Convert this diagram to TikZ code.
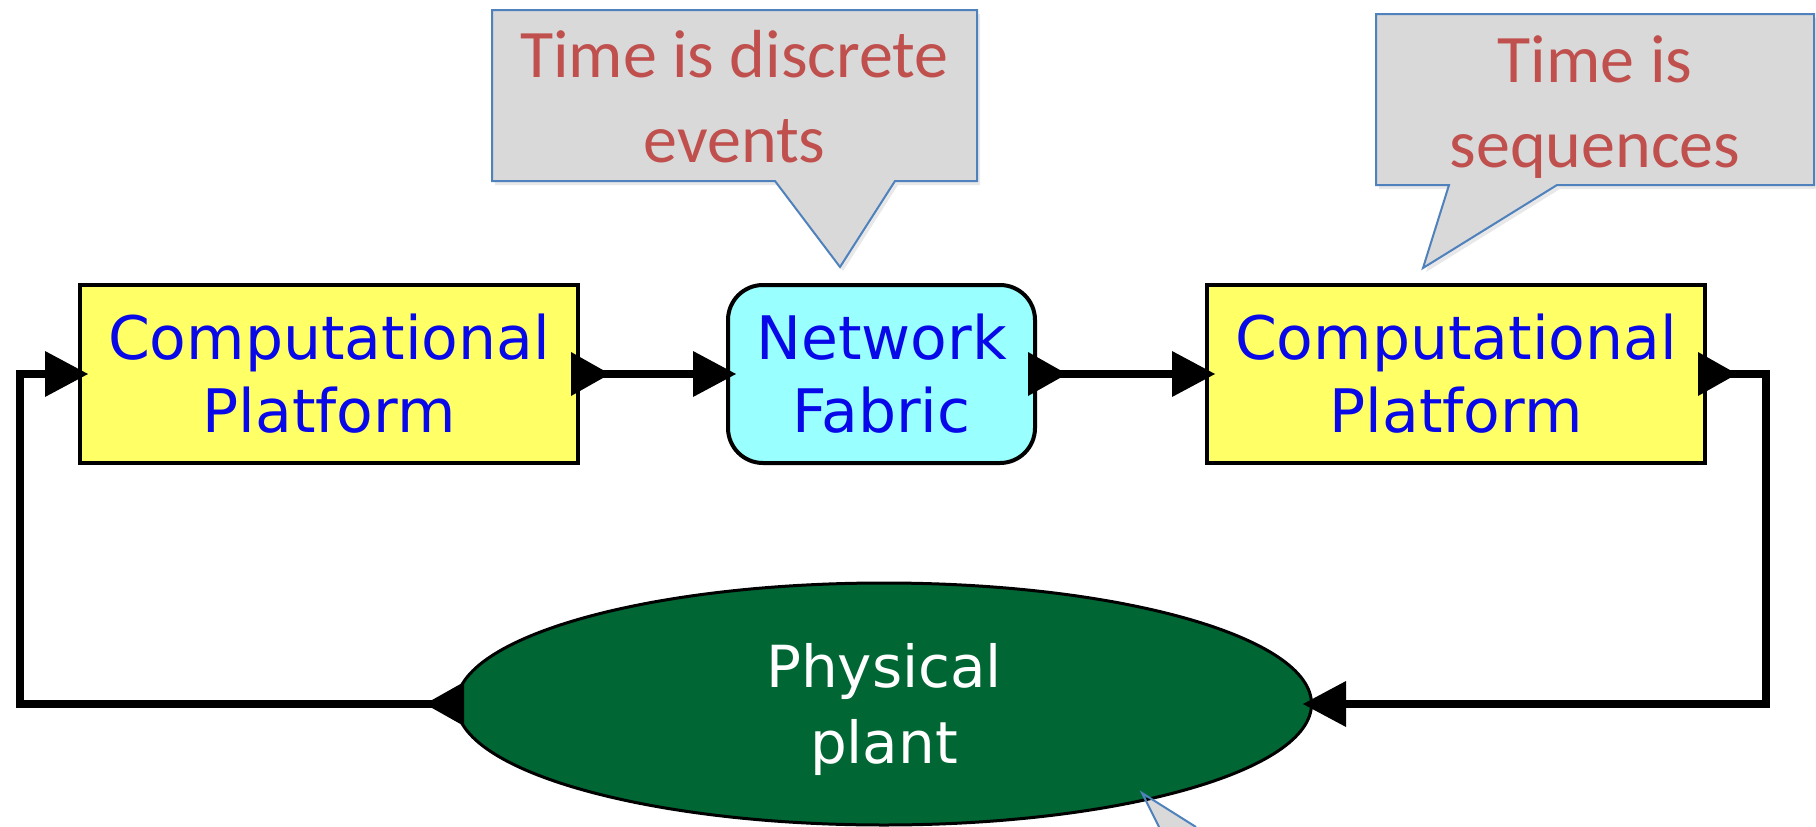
\documentclass[tikz,border=0pt]{standalone}
\usepackage{fontspec}
\setmainfont{DejaVu Sans}
\newfontfamily\calloutfont{Carlito}
\usetikzlibrary{shapes.geometric,shadows}

\definecolor{boxyellow}{HTML}{FFFF66}
\definecolor{netcyan}{HTML}{99FFFF}
\definecolor{plantgreen}{HTML}{006633}
\definecolor{labelblue}{HTML}{0808E8}
\definecolor{noteborder}{HTML}{4F81BD}
\definecolor{notefill}{HTML}{D9D9D9}
\definecolor{notetext}{HTML}{C0504D}

\tikzset{
  block/.style={draw=black, line width=4pt, minimum height=178pt, inner sep=0pt,
    align=center, text=labelblue, font=\fontsize{60}{73}\selectfont},
  platform/.style={block, rectangle, fill=boxyellow, minimum width=498pt},
  fabric/.style={block, rectangle, rounded corners=35pt, fill=netcyan, minimum width=307pt},
  plantshape/.style={ellipse, draw=black, line width=3pt, fill=plantgreen,
    minimum width=855pt, minimum height=242pt, inner sep=0pt, align=center,
    text=white, font=\fontsize{58}{76}\selectfont},
  wire/.style={draw=black, line width=8.5pt, line join=miter},
  note/.style={fill=notefill, draw=noteborder, line width=2pt, line join=miter,
    drop shadow={opacity=0.18, shadow xshift=3pt, shadow yshift=-4pt}},
  notelabel/.style={align=center, text=notetext, inner sep=0pt,
    font=\calloutfont\fontsize{68}{85}\selectfont},
  outport/.pic={\fill[black] (-9,-22) -- (30,0) -- (-9,22) -- cycle;},
  inport/.pic={\fill[black] (-33,-23) -- (10,0) -- (-33,23) -- cycle;},
}

\begin{document}
\begin{tikzpicture}[x=1pt, y=-1pt]
\useasboundingbox (0,0) rectangle (1816,827);

% speech-bubble notes
\path[note] (492,10) -- (977,10) -- (977,181) -- (895,181) -- (840,267)
  -- (775,181) -- (492,181) -- cycle;
\node[notelabel] (note1) at (734.5,97) {Time is discrete\\events};

\path[note] (1376,14) -- (1814,14) -- (1814,185) -- (1557,185) -- (1423,268)
  -- (1449,185) -- (1376,185) -- cycle;
\node[notelabel] (note2) at (1595,107) {Time is\\sequences};

% tail of a third note, reaching up from below
\fill[notefill] (1142,793) -- (1196,827) -- (1159,827) -- cycle;

% blocks
\node[platform] (cp1) at (329,374) {Computational\\Platform};
\node[fabric] (nf) at (881.5,374) {Network\\Fabric};
\node[platform] (cp2) at (1456,374) {Computational\\Platform};
\node[plantshape] (plant) at (884,704) {\rule{0pt}{56pt}Physical\\plant};

% outline of the third note's tail, drawn over the plant
\draw[noteborder, line width=2pt] (1159,827) -- (1142,793) -- (1196,827);

% corners of the feedback loop
\coordinate (rcorner) at (1766,704);
\coordinate (lcorner) at (20,704);

% connectors
\path[wire] (cp1.east) -- (nf.west);
\path[wire] (nf.east) -- (cp2.west);
\path[wire] (cp2.east) -| (rcorner) -- (plant.east);
\path[wire] (plant.west) -- (lcorner) |- (cp1.west);

% ports
\pic at (cp1.east) {outport};
\pic at (nf.west) {inport};
\pic at (nf.east) {outport};
\pic at (cp2.west) {inport};
\pic at (cp2.east) {outport};
\pic[rotate=180] at (plant.east) {inport};
\pic[rotate=180] at (plant.west) {outport};
\pic at (cp1.west) {inport};
\end{tikzpicture}
\end{document}
